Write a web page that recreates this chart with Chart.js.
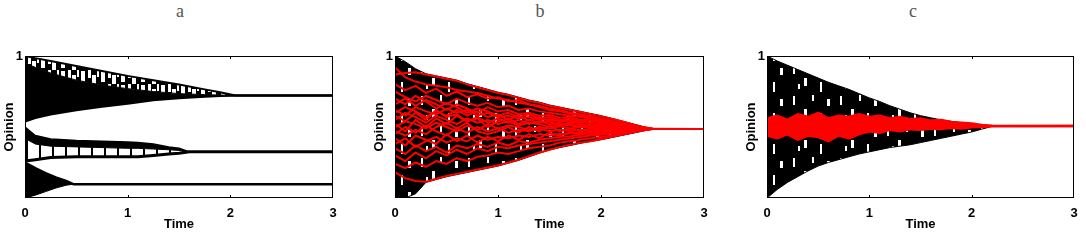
<!DOCTYPE html>
<html>
<head>
<meta charset="utf-8">
<script src="https://cdn.jsdelivr.net/npm/chart.js@4.4.1/dist/chart.umd.min.js"></script>
<style>
  body { margin: 0; background: #fff; width: 1086px; height: 248px; position: relative; overflow: hidden; }
  canvas { position: absolute; top: 0; }
  .lbl { position: absolute; top: 0; font-family: "Liberation Serif", "DejaVu Serif", serif; font-size: 18px; color: #555; line-height: 22px; transform: translateX(-50%); }
</style>
</head>
<body>
<div class="lbl" style="left:180px">a</div>
<div class="lbl" style="left:540px">b</div>
<div class="lbl" style="left:913px">c</div>
<canvas id="panelA" width="345" height="248" style="left:0px"></canvas>
<canvas id="panelB" width="346" height="248" style="left:370px"></canvas>
<canvas id="panelC" width="344" height="248" style="left:742px"></canvas>
<script>
// sumbu
const xTicks = [0, 1, 2, 3];
const yTicks = [0, 1];

// panel a: tiga kelompok opini (batas atas, batas dalam, batas bawah)
const timeA1 = [0, 0.1, 0.25, 0.5, 0.75, 1, 1.25, 1.5, 1.75, 1.9, 2.05, 3];
const a1Upper = [1.0, 0.985, 0.965, 0.93, 0.895, 0.86, 0.83, 0.80, 0.765, 0.745, 0.722, 0.722];
const a1Inner = [0.95, 0.92, 0.88, 0.83, 0.795, 0.77, 0.75, 0.735, 0.728, 0.725, 0.722, 0.722];
const a1Lower = [0.54, 0.565, 0.59, 0.62, 0.645, 0.665, 0.69, 0.705, 0.715, 0.72, 0.722, 0.722];

const timeA2 = [0, 0.1, 0.25, 0.5, 0.75, 1, 1.1, 1.25, 1.4, 1.5, 1.6, 3];
const a2Upper = [0.50, 0.44, 0.415, 0.405, 0.40, 0.395, 0.39, 0.38, 0.36, 0.35, 0.325, 0.325];
const a2Inner = [0.42, 0.38, 0.365, 0.36, 0.355, 0.35, 0.35, 0.345, 0.34, 0.335, 0.325, 0.325];
const a2Lower = [0.26, 0.27, 0.285, 0.29, 0.29, 0.29, 0.29, 0.30, 0.31, 0.315, 0.325, 0.325];

const timeA3 = [0, 0.1, 0.2, 0.3, 0.4, 0.47, 3];
const a3Upper = [0.25, 0.21, 0.175, 0.145, 0.12, 0.097, 0.097];
const a3Lower = [0.0, 0.02, 0.045, 0.07, 0.09, 0.097, 0.097];

// panel b: selubung hitam + lintasan merah
const timeB = [0, 0.1, 0.2, 0.3, 0.4, 0.5, 0.6, 0.7, 0.8, 0.9, 1.0, 1.1, 1.2, 1.3, 1.4, 1.5, 1.6, 1.7, 1.8, 1.9, 2.0, 2.1, 2.2, 2.3, 2.4, 2.5, 3];
const bUpper = [1.0, 0.96, 0.91, 0.875, 0.86, 0.845, 0.83, 0.805, 0.785, 0.765, 0.745, 0.73, 0.71, 0.69, 0.675, 0.655, 0.64, 0.625, 0.61, 0.595, 0.58, 0.562, 0.543, 0.524, 0.505, 0.487, 0.486];
const bLower = [0.0, 0.0, 0.03, 0.11, 0.13, 0.15, 0.165, 0.18, 0.195, 0.21, 0.225, 0.245, 0.265, 0.29, 0.315, 0.338, 0.355, 0.37, 0.385, 0.398, 0.41, 0.425, 0.44, 0.455, 0.47, 0.486, 0.486];
const bRed = [
  [0.87, 0.88, 0.885, 0.87, 0.855, 0.84, 0.825, 0.80, 0.78, 0.76, 0.74, 0.725, 0.705, 0.685, 0.67, 0.65, 0.635, 0.62, 0.605, 0.59, 0.575, 0.558, 0.54, 0.52, 0.50, 0.487, 0.486],
  [0.18, 0.14, 0.12, 0.115, 0.135, 0.155, 0.17, 0.185, 0.20, 0.215, 0.23, 0.25, 0.27, 0.295, 0.32, 0.34, 0.36, 0.375, 0.39, 0.40, 0.415, 0.43, 0.445, 0.46, 0.475, 0.487, 0.486],
  [0.70, 0.66, 0.72, 0.68, 0.63, 0.67, 0.64, 0.60, 0.63, 0.61, 0.58, 0.60, 0.57, 0.59, 0.56, 0.57, 0.55, 0.56, 0.54, 0.545, 0.53, 0.52, 0.51, 0.50, 0.49, 0.487, 0.486],
  [0.55, 0.60, 0.57, 0.53, 0.58, 0.55, 0.52, 0.56, 0.53, 0.55, 0.52, 0.54, 0.51, 0.53, 0.52, 0.50, 0.52, 0.51, 0.50, 0.51, 0.495, 0.50, 0.49, 0.49, 0.487, 0.486, 0.486],
  [0.45, 0.50, 0.46, 0.51, 0.47, 0.44, 0.49, 0.46, 0.50, 0.47, 0.49, 0.46, 0.48, 0.47, 0.49, 0.47, 0.48, 0.47, 0.48, 0.475, 0.48, 0.48, 0.482, 0.484, 0.485, 0.486, 0.486],
  [0.38, 0.42, 0.36, 0.40, 0.43, 0.39, 0.42, 0.40, 0.44, 0.41, 0.43, 0.42, 0.44, 0.43, 0.45, 0.44, 0.45, 0.455, 0.46, 0.465, 0.47, 0.47, 0.475, 0.48, 0.483, 0.486, 0.486],
  [0.30, 0.26, 0.32, 0.28, 0.33, 0.30, 0.34, 0.31, 0.35, 0.33, 0.36, 0.35, 0.37, 0.38, 0.39, 0.40, 0.41, 0.42, 0.43, 0.44, 0.445, 0.455, 0.46, 0.47, 0.48, 0.486, 0.486],
  [0.80, 0.76, 0.79, 0.74, 0.77, 0.72, 0.75, 0.71, 0.73, 0.70, 0.71, 0.68, 0.69, 0.66, 0.65, 0.63, 0.62, 0.60, 0.59, 0.575, 0.56, 0.545, 0.53, 0.515, 0.50, 0.487, 0.486],
  [0.62, 0.58, 0.64, 0.61, 0.59, 0.63, 0.60, 0.62, 0.58, 0.60, 0.57, 0.58, 0.56, 0.57, 0.55, 0.555, 0.54, 0.545, 0.53, 0.53, 0.52, 0.51, 0.505, 0.495, 0.49, 0.486, 0.486],
  [0.50, 0.54, 0.52, 0.49, 0.53, 0.50, 0.47, 0.51, 0.48, 0.52, 0.49, 0.51, 0.50, 0.48, 0.50, 0.49, 0.505, 0.49, 0.50, 0.495, 0.49, 0.49, 0.488, 0.487, 0.486, 0.486, 0.486],
  [0.24, 0.21, 0.25, 0.22, 0.26, 0.24, 0.28, 0.26, 0.29, 0.30, 0.32, 0.31, 0.33, 0.35, 0.36, 0.37, 0.39, 0.40, 0.41, 0.42, 0.43, 0.44, 0.45, 0.465, 0.475, 0.486, 0.486],
  [0.92, 0.85, 0.82, 0.80, 0.79, 0.78, 0.76, 0.75, 0.74, 0.72, 0.70, 0.69, 0.67, 0.66, 0.64, 0.62, 0.61, 0.595, 0.58, 0.57, 0.555, 0.54, 0.525, 0.51, 0.495, 0.487, 0.486],
  [0.42, 0.37, 0.44, 0.41, 0.38, 0.45, 0.40, 0.44, 0.39, 0.43, 0.40, 0.44, 0.41, 0.45, 0.42, 0.46, 0.44, 0.46, 0.45, 0.47, 0.46, 0.47, 0.475, 0.48, 0.484, 0.486, 0.486],
  [0.58, 0.54, 0.60, 0.55, 0.62, 0.57, 0.59, 0.54, 0.57, 0.53, 0.56, 0.53, 0.55, 0.52, 0.54, 0.52, 0.53, 0.515, 0.52, 0.505, 0.51, 0.50, 0.495, 0.49, 0.488, 0.486, 0.486],
  [0.66, 0.70, 0.65, 0.69, 0.66, 0.62, 0.66, 0.63, 0.60, 0.64, 0.61, 0.62, 0.59, 0.60, 0.58, 0.585, 0.565, 0.57, 0.55, 0.55, 0.535, 0.525, 0.515, 0.503, 0.492, 0.486, 0.486],
  [0.52, 0.47, 0.55, 0.50, 0.56, 0.52, 0.58, 0.54, 0.56, 0.50, 0.54, 0.56, 0.52, 0.55, 0.53, 0.54, 0.51, 0.525, 0.51, 0.515, 0.50, 0.505, 0.495, 0.492, 0.488, 0.486, 0.486],
  [0.35, 0.31, 0.37, 0.33, 0.36, 0.32, 0.37, 0.35, 0.38, 0.36, 0.39, 0.37, 0.40, 0.39, 0.41, 0.42, 0.43, 0.435, 0.445, 0.45, 0.455, 0.46, 0.468, 0.475, 0.481, 0.486, 0.486],
  [0.75, 0.71, 0.68, 0.72, 0.69, 0.66, 0.70, 0.67, 0.65, 0.67, 0.64, 0.65, 0.62, 0.63, 0.61, 0.60, 0.59, 0.58, 0.57, 0.56, 0.545, 0.535, 0.52, 0.505, 0.493, 0.486, 0.486],
  [0.47, 0.44, 0.48, 0.45, 0.50, 0.53, 0.49, 0.53, 0.47, 0.45, 0.47, 0.50, 0.46, 0.50, 0.47, 0.51, 0.47, 0.49, 0.47, 0.49, 0.475, 0.485, 0.48, 0.485, 0.485, 0.486, 0.486],
  [0.60, 0.64, 0.61, 0.57, 0.61, 0.58, 0.62, 0.58, 0.61, 0.57, 0.59, 0.55, 0.58, 0.545, 0.57, 0.54, 0.55, 0.53, 0.54, 0.525, 0.52, 0.515, 0.505, 0.497, 0.49, 0.486, 0.486]
];

// panel c: selubung hitam + pita merah di tengah
const timeC = [0, 0.1, 0.2, 0.3, 0.4, 0.5, 0.6, 0.7, 0.8, 0.9, 1.0, 1.1, 1.2, 1.3, 1.4, 1.5, 1.6, 1.7, 1.8, 1.9, 2.0, 2.1, 2.2, 3];
const cUpper = [1.0, 0.965, 0.935, 0.905, 0.875, 0.845, 0.815, 0.79, 0.765, 0.735, 0.705, 0.68, 0.65, 0.625, 0.60, 0.58, 0.565, 0.55, 0.54, 0.53, 0.52, 0.512, 0.507, 0.507];
const cLower = [0.0, 0.06, 0.11, 0.15, 0.19, 0.225, 0.25, 0.27, 0.29, 0.31, 0.325, 0.34, 0.355, 0.365, 0.375, 0.39, 0.405, 0.42, 0.435, 0.45, 0.465, 0.485, 0.505, 0.507];
const cRedUpper = [0.56, 0.58, 0.55, 0.59, 0.57, 0.60, 0.56, 0.58, 0.57, 0.59, 0.57, 0.58, 0.56, 0.57, 0.555, 0.56, 0.545, 0.55, 0.535, 0.53, 0.525, 0.515, 0.508, 0.507];
const cRedLower = [0.44, 0.42, 0.45, 0.41, 0.44, 0.43, 0.40, 0.44, 0.42, 0.45, 0.47, 0.46, 0.48, 0.47, 0.485, 0.48, 0.49, 0.485, 0.495, 0.49, 0.498, 0.50, 0.505, 0.507];

const RED = '#ff0000';
const tickFont = { family: '"Liberation Sans", Arial, sans-serif', size: 13, weight: 'bold' };

function pts(times, vals) {
  return times.map((t, i) => ({ x: t, y: vals[i] }));
}

// pola bercak untuk daerah hitam yang berlubang-lubang
function blotches(w, h, base, spot, rects) {
  const c = document.createElement('canvas');
  c.width = w; c.height = h;
  const g = c.getContext('2d');
  g.fillStyle = base; g.fillRect(0, 0, w, h);
  g.fillStyle = spot;
  rects.forEach(r => g.fillRect(r[0], r[1], r[2], r[3]));
  return g.createPattern(c, 'repeat');
}

const hatchTop = blotches(20, 14, '#000', '#fff', [[1, 1, 4, 11], [8, 0, 3, 8], [12, 5, 4, 9], [17, 0, 2, 7]]);
const hatchMid = blotches(13, 10, '#fff', '#000', [[0, 0, 2, 10]]);
const speckled = blotches(47, 31, '#000', '#fff', [[4, 3, 2, 9], [15, 16, 3, 8], [23, 2, 2, 6], [31, 20, 2, 10], [38, 6, 3, 7], [9, 22, 2, 5]]);

function line(times, vals, color, width, fill, bg) {
  return {
    data: pts(times, vals),
    borderColor: color,
    borderWidth: width,
    backgroundColor: bg || 'transparent',
    fill: fill || false,
    pointRadius: 0,
    tension: 0,
    borderJoinStyle: 'round'
  };
}

const framePlugin = {
  id: 'frame',
  afterDatasetsDraw(chart) {
    const { ctx, chartArea, scales } = chart;
    const { left, top, right, bottom } = chartArea;
    ctx.save();
    ctx.strokeStyle = '#000';
    ctx.lineWidth = 1;
    ctx.strokeRect(left + 0.5, top + 0.5, right - left - 1, bottom - top - 1);
    xTicks.slice(1, -1).forEach(v => {
      const px = Math.round(scales.x.getPixelForValue(v)) + 0.5;
      ctx.beginPath();
      ctx.moveTo(px, bottom); ctx.lineTo(px, bottom - 3);
      ctx.moveTo(px, top); ctx.lineTo(px, top + 3);
      ctx.stroke();
    });
    ctx.restore();
  }
};

function makePanel(id, datasets) {
  new Chart(document.getElementById(id), {
    type: 'line',
    data: { datasets },
    options: {
      responsive: false,
      animation: false,
      layout: { padding: { top: 56, right: 12, bottom: 14, left: 0 } },
      plugins: { legend: { display: false }, tooltip: { enabled: false } },
      scales: {
        x: {
          type: 'linear', min: 0, max: 3,
          afterBuildTicks: s => { s.ticks = xTicks.map(v => ({ value: v })); },
          afterFit: s => { s.height = 36; },
          grid: { display: false, drawTicks: false },
          border: { display: false },
          ticks: { color: '#000', font: tickFont, padding: 8, maxRotation: 0 },
          title: { display: true, text: 'Time', color: '#000', font: tickFont, padding: { top: 0, bottom: 2 } }
        },
        y: {
          min: 0, max: 1,
          afterBuildTicks: s => { s.ticks = yTicks.map(v => ({ value: v })); },
          afterFit: s => { s.width = 25; },
          grid: { display: false, drawTicks: false },
          border: { display: false },
          ticks: { color: '#000', font: tickFont, padding: 2, callback: v => (v === 1 ? '1' : '') },
          title: { display: true, text: 'Opinion', color: '#000', font: tickFont, padding: { top: 2, bottom: 0 } }
        }
      }
    },
    plugins: [framePlugin]
  });
}

// panel a
makePanel('panelA', [
  line(timeA1, a1Upper, '#000', 2),
  line(timeA1, a1Inner, '#000', 1, '-1', hatchTop),
  line(timeA1, a1Lower, '#000', 2.5, '-1', '#000'),
  line(timeA2, a2Upper, '#000', 1.5),
  line(timeA2, a2Inner, '#000', 1, '-1', '#000'),
  line(timeA2, a2Lower, '#000', 3, '-1', hatchMid),
  line(timeA3, a3Upper, '#000', 2.5),
  line(timeA3, a3Lower, '#000', 1, '-1', '#000')
]);

// panel b
const bSets = [
  line(timeB, bUpper, '#000', 1),
  line(timeB, bLower, '#000', 1, '-1', speckled)
];
bRed.forEach(r => {
  const d = line(timeB, r, RED, 2);
  d.order = -1;
  bSets.push(d);
});
makePanel('panelB', bSets);

// panel c
const cSets = [
  line(timeC, cUpper, '#000', 1),
  line(timeC, cLower, '#000', 1, '-1', speckled),
  line(timeC, cRedUpper, RED, 2.5),
  line(timeC, cRedLower, RED, 2.5, '-1', RED)
];
cSets[2].order = -1;
cSets[3].order = -1;
makePanel('panelC', cSets);
</script>
</body>
</html>
